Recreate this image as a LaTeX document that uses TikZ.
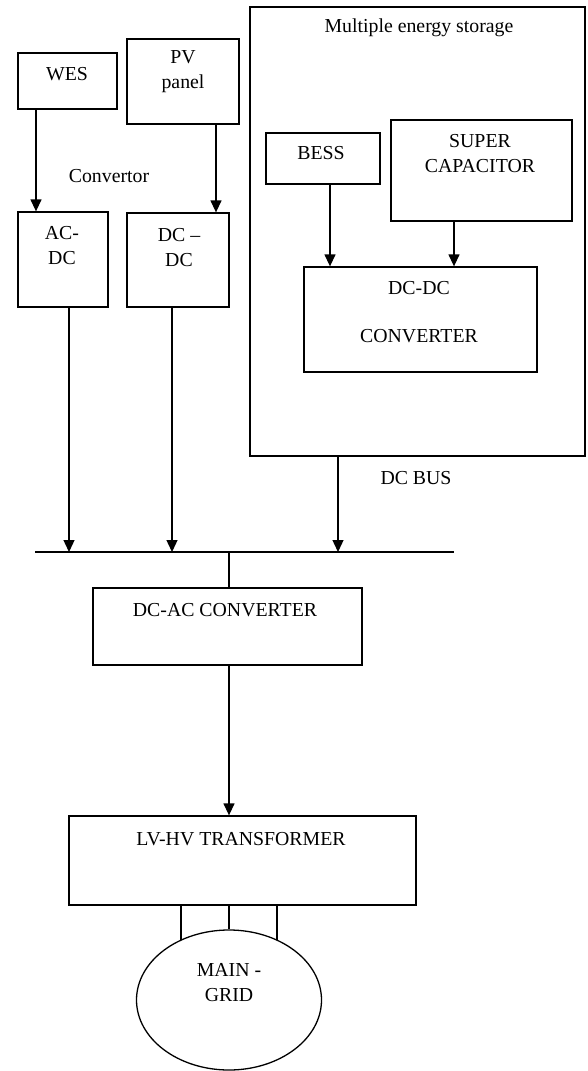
\documentclass[tikz,border=0pt]{standalone}
\usepackage{fontspec}
\setmainfont{Liberation Serif}
\usetikzlibrary{shapes.geometric,arrows.meta}
\begin{document}
\begin{tikzpicture}[x=1pt,y=-1pt,
  box/.style={draw,line width=1.3pt,minimum width=#1,inner sep=0pt},
  lbl/.style={inner sep=0pt,align=center,font=\fontsize{19.8}{25}\selectfont},
  arr/.style={line width=1.3pt,-{Triangle[width=11pt,length=12pt]}},
  wire/.style={line width=1.3pt}]
\useasboundingbox (0,0) rectangle (587,1071);
% sources
\node[box=99pt,minimum height=56pt] (wes) at (67.5,81) {};
\node[lbl] (weslbl) at (67,74) {WES};
\node[box=112pt,minimum height=85pt] (pv) at (183,81.5) {};
\node[lbl] (pvlbl) at (183,71.5) {PV\\panel};
\node[lbl] (conv) at (109,176) {Convertor};
\node[box=90pt,minimum height=95pt] (acdc) at (63,259.5) {};
\node[lbl] (acdclbl) at (62,245.5) {AC-\\DC};
\node[box=102pt,minimum height=94pt] (dcdc) at (178,260) {};
\node[lbl] (dcdclbl) at (179,247.5) {DC –\\DC};
% storage
\node[box=335pt,minimum height=449pt] (st) at (417.5,231.5) {};
\node[lbl] (stlbl) at (419,28) {Multiple energy storage};
\node[box=114pt,minimum height=51pt] (bess) at (323,158.5) {};
\node[lbl] (besslbl) at (321,153) {BESS};
\node[box=181pt,minimum height=101pt] (sc) at (481.5,170.5) {};
\node[lbl] (sclbl) at (480,153.5) {SUPER\\CAPACITOR};
\node[box=233pt,minimum height=105pt] (sdc) at (420.5,319.5) {};
\node[lbl] (sdclbl1) at (419,288) {DC-DC};
\node[lbl] (sdclbl2) at (419,336) {CONVERTER};
% bus
\coordinate (busL) at (35,552);
\coordinate (busR) at (454,552);
\draw[wire] (busL) -- (busR);
\node[lbl] (buslbl) at (416,478) {DC BUS};
% lower chain
\node[box=269pt,minimum height=77pt] (dcac) at (227.5,626.5) {};
\node[lbl] (dcaclbl) at (225,610) {DC-AC CONVERTER};
\node[box=347pt,minimum height=89pt] (tr) at (242.5,860.5) {};
\node[lbl] (trlbl) at (241,839) {LV-HV TRANSFORMER};
\node[draw,line width=1.3pt,ellipse,minimum width=185pt,minimum height=140pt,inner sep=0pt] (grid) at (229,1000) {};
\node[lbl] (gridlbl) at (229,982.5) {MAIN -\\GRID};
\coordinate (gl) at (181,940.2);
\coordinate (gr) at (277,940.2);
% arrows
\draw[arr] (wes.south -| 36,0) -- (acdc.north -| 36,0);
\draw[arr] (pv.south -| 216,0) -- (dcdc.north -| 216,0);
\draw[arr] (bess.south -| 330,0) -- (sdc.north -| 330,0);
\draw[arr] (sc.south -| 454,0) -- (sdc.north -| 454,0);
\draw[arr] (acdc.south -| 69,0) -- (busL -| 69,0);
\draw[arr] (dcdc.south -| 172,0) -- (busL -| 172,0);
\draw[arr] (st.south -| 338,0) -- (busL -| 338,0);
\draw[wire] (busL -| 229,0) -- (dcac.north -| 229,0);
\draw[arr] (dcac.south -| 229,0) -- (tr.north -| 229,0);
\draw[wire] (tr.south -| gl) -- (gl);
\draw[wire] (tr.south -| grid.north) -- (grid.north);
\draw[wire] (tr.south -| gr) -- (gr);
\end{tikzpicture}
\end{document}
